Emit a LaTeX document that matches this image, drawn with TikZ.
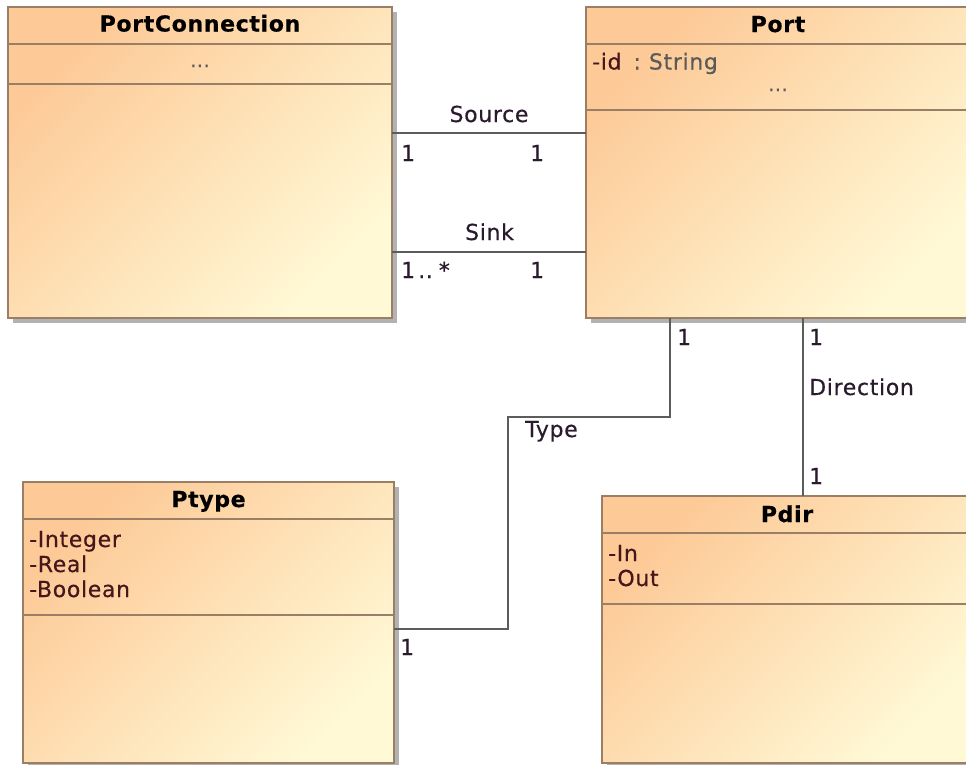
\documentclass[tikz,border=0pt]{standalone}
\usepackage{fontspec}
\setmainfont{DejaVu Sans}[LetterSpace=3, FakeBold=0.4]
\usetikzlibrary{shadows}

\definecolor{classedge}{HTML}{9A7F66}
\definecolor{classtop}{HTML}{FDC996}
\definecolor{classbottom}{HTML}{FFF9D6}
\definecolor{wire}{HTML}{5C5C5C}
\definecolor{attrtext}{HTML}{45161A}
\definecolor{typetext}{HTML}{5A5A5A}
\definecolor{roletext}{HTML}{2A1A2E}

\begin{document}
\begin{tikzpicture}[x=1pt, y=-1pt,
    every node/.style={font=\fontsize{22}{26}\selectfont, inner sep=0pt},
    umlclass/.style={rectangle, draw=classedge, line width=1.8pt, anchor=north west, outer sep=0pt,
      top color=classtop, bottom color=classbottom, shading angle=45,
      drop shadow={shadow xshift=4.5pt, shadow yshift=-4.5pt, fill=black, opacity=0.3}},
    classname/.style={anchor=base, font=\fontsize{22}{26}\selectfont\bfseries, text=black},
    attr/.style={anchor=base west, text=attrtext},
    dots/.style={anchor=base, font=\fontsize{19}{22}\selectfont, text=typetext},
    divider/.style={draw=classedge, line width=1.8pt},
    assoc/.style={draw=wire, line width=1.8pt},
    role/.style={anchor=base west, text=roletext}]
  \useasboundingbox (0,0) rectangle (966,764);

  % classes
  \node[umlclass, minimum width=384pt, minimum height=311pt] (conn) at (8,7) {};
  \node[classname] (conntitle) at ([yshift=-24.5pt]conn.north) {PortConnection};
  \draw[divider] ([yshift=-37pt]conn.north west) -- ([yshift=-37pt]conn.north east);
  \node[dots] (conndots) at ([yshift=-60pt]conn.north) {...};
  \draw[divider] ([yshift=-77pt]conn.north west) -- ([yshift=-77pt]conn.north east);

  \node[umlclass, minimum width=384pt, minimum height=311pt] (port) at (586,7) {};
  \node[classname] (porttitle) at ([yshift=-25pt]port.north) {Port};
  \draw[divider] ([yshift=-37pt]port.north west) -- ([yshift=-37pt]port.north east);
  \node[attr] (portid) at ([xshift=6pt, yshift=-62.5pt]port.north west)
    {-id\textcolor{typetext}{\hspace{12pt}:\hspace{8pt}String}};
  \node[dots] (portdots) at ([yshift=-84pt]port.north) {...};
  \draw[divider] ([yshift=-103pt]port.north west) -- ([yshift=-103pt]port.north east);

  \node[umlclass, minimum width=371pt, minimum height=281pt] (ptype) at (23,482) {};
  \node[classname] (ptypetitle) at ([yshift=-25pt]ptype.north) {Ptype};
  \draw[divider] ([yshift=-37pt]ptype.north west) -- ([yshift=-37pt]ptype.north east);
  \foreach \i/\lit in {0/-Integer, 1/-Real, 2/-Boolean}
    \node[attr] (ptypelit\i) at ([xshift=6pt, yshift=-65pt-25pt*\i]ptype.north west) {\lit};
  \draw[divider] ([yshift=-133pt]ptype.north west) -- ([yshift=-133pt]ptype.north east);

  \node[umlclass, minimum width=370pt, minimum height=267pt] (pdir) at (602,496) {};
  \node[classname] (pdirtitle) at ([yshift=-26pt]pdir.north) {Pdir};
  \draw[divider] ([yshift=-37pt]pdir.north west) -- ([yshift=-37pt]pdir.north east);
  \foreach \i/\lit in {0/-In, 1/-Out}
    \node[attr] (pdirlit\i) at ([xshift=6pt, yshift=-65pt-25pt*\i]pdir.north west) {\lit};
  \draw[divider] ([yshift=-108pt]pdir.north west) -- ([yshift=-108pt]pdir.north east);

  % associations
  \draw[assoc] ([yshift=-126pt]conn.north east) -- ([yshift=-126pt]port.north west);
  \draw[assoc] ([yshift=-245pt]conn.north east) -- ([yshift=-245pt]port.north west);
  \coordinate (typebend) at (508,417);
  \draw[assoc] ([xshift=84pt]port.south west) |- (typebend) |- ([yshift=-147pt]ptype.north east);
  \draw[assoc] ([xshift=217pt]port.south west) -- ([xshift=201pt]pdir.north west);

  \node[role, anchor=base] (srclabel) at (489,122) {Source};
  \node[role] (srcmulta) at (401,161) {1};
  \node[role] (srcmultb) at (530,161) {1};
  \node[role, anchor=base] (sinklabel) at (489.5,240) {Sink};
  \node[role] (sinkmulta) at (401,278) {1\hspace{3pt}..\hspace{6pt}*};
  \node[role] (sinkmultb) at (530,278) {1};
  \node[role] (typemulta) at (677,345) {1};
  \node[role] (typelabel) at (525,437) {Type};
  \node[role] (typemultb) at (400,655) {1};
  \node[role] (dirmulta) at (809,345) {1};
  \node[role] (dirlabel) at (809,395) {Direction};
  \node[role] (dirmultb) at (809,484) {1};
\end{tikzpicture}
\end{document}
